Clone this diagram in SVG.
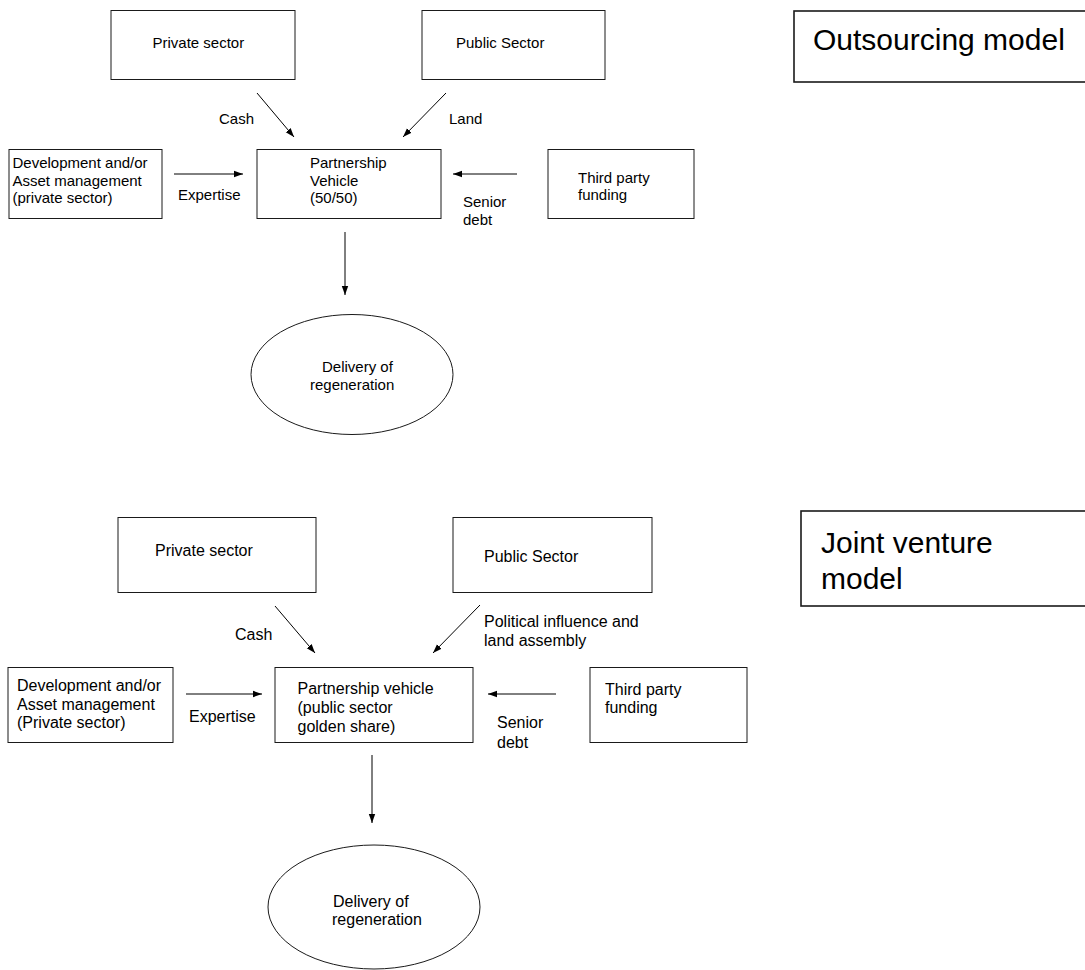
<svg xmlns="http://www.w3.org/2000/svg" width="1085" height="970" viewBox="0 0 1085 970">
<defs>
<marker id="ah" markerUnits="userSpaceOnUse" markerWidth="10" markerHeight="8" refX="9" refY="4" orient="auto">
<path d="M0,0.8 L9,4 L0,7.2 Z" fill="#000"/>
</marker>
<style>
.box{fill:#fff;stroke:#1a1a1a;stroke-width:1}
.title{fill:#fff;stroke:#1a1a1a;stroke-width:1.6}
.t{font-family:"Liberation Sans",Arial,sans-serif;font-size:15px;fill:#000}
.b{font-family:"Liberation Sans",Arial,sans-serif;font-size:16px;fill:#000}
.big{font-family:"Liberation Sans",Arial,sans-serif;font-size:30px;fill:#000}
.c{stroke:#000;stroke-width:1;fill:none;marker-end:url(#ah)}
</style>
</defs>
<rect width="1085" height="970" fill="#fff"/>

<!-- Top: Outsourcing model -->
<g id="top-private"><rect class="box" x="111" y="10.5" width="184" height="69"/><text class="t" x="152.5" y="48">Private sector</text></g>
<g id="top-public"><rect class="box" x="422" y="10.5" width="183" height="69"/><text class="t" x="456" y="48">Public Sector</text></g>
<g id="top-dev"><rect class="box" x="9" y="149.5" width="153" height="69"/><text class="t" x="12.5" y="168">Development and/or</text><text class="t" x="12.5" y="185.5">Asset management</text><text class="t" x="12.5" y="203">(private sector)</text></g>
<g id="top-pv"><rect class="box" x="257" y="149.5" width="184" height="69"/><text class="t" x="310" y="168">Partnership</text><text class="t" x="310" y="185.5">Vehicle</text><text class="t" x="310" y="203">(50/50)</text></g>
<g id="top-third"><rect class="box" x="548" y="149.5" width="146" height="69"/><text class="t" x="578" y="183">Third party</text><text class="t" x="578" y="200">funding</text></g>
<g id="top-delivery"><ellipse class="box" cx="352" cy="374.5" rx="101" ry="60"/><text class="t" x="322" y="372">Delivery of</text><text class="t" x="310" y="390">regeneration</text></g>
<g id="top-title"><rect class="title" x="794" y="11" width="310" height="71"/><text class="big" x="813" y="50">Outsourcing model</text></g>

<!-- Bottom: Joint venture model -->
<g id="bot-private"><rect class="box" x="118" y="517.5" width="198" height="75"/><text class="b" x="155" y="556">Private sector</text></g>
<g id="bot-public"><rect class="box" x="453" y="517.5" width="199" height="75"/><text class="b" x="484" y="562">Public Sector</text></g>
<g id="bot-dev"><rect class="box" x="8" y="667.5" width="165" height="75"/><text class="b" x="17" y="691">Development and/or</text><text class="b" x="17" y="709.5">Asset management</text><text class="b" x="17" y="728">(Private sector)</text></g>
<g id="bot-pv"><rect class="box" x="275" y="667.5" width="198" height="75"/><text class="b" x="297.5" y="694">Partnership vehicle</text><text class="b" x="297.5" y="713">(public sector</text><text class="b" x="297.5" y="732">golden share)</text></g>
<g id="bot-third"><rect class="box" x="590" y="667.5" width="157" height="75"/><text class="b" x="605" y="695">Third party</text><text class="b" x="605" y="713">funding</text></g>
<g id="bot-delivery"><ellipse class="box" cx="374" cy="907" rx="106" ry="62"/><text class="b" x="333" y="907">Delivery of</text><text class="b" x="332" y="925">regeneration</text></g>
<g id="bot-title"><rect class="title" x="801" y="511" width="300" height="95"/><text class="big" x="821" y="553">Joint venture</text><text class="big" x="821" y="589">model</text></g>

<!-- Connectors -->
<g id="connectors">
<line class="c" x1="257" y1="93" x2="294" y2="137"/>
<line class="c" x1="446" y1="93" x2="403" y2="137"/>
<line class="c" x1="174" y1="174" x2="243" y2="174"/>
<line class="c" x1="517" y1="174" x2="453" y2="174"/>
<line class="c" x1="345" y1="232" x2="345" y2="295"/>
<line class="c" x1="275" y1="606" x2="315" y2="653"/>
<line class="c" x1="480" y1="605" x2="433" y2="653"/>
<line class="c" x1="186" y1="694" x2="262" y2="694"/>
<line class="c" x1="556" y1="694" x2="488" y2="694"/>
<line class="c" x1="372" y1="755" x2="372" y2="823"/>
<text class="t" x="219" y="124">Cash</text>
<text class="t" x="449" y="124">Land</text>
<text class="t" x="178" y="200">Expertise</text>
<text class="t" x="463" y="207">Senior</text>
<text class="t" x="463" y="225">debt</text>
<text class="b" x="235" y="640">Cash</text>
<text class="b" x="484" y="627">Political influence and</text>
<text class="b" x="484" y="646">land assembly</text>
<text class="b" x="189" y="722">Expertise</text>
<text class="b" x="497" y="728">Senior</text>
<text class="b" x="497" y="748">debt</text>
</g>
</svg>
